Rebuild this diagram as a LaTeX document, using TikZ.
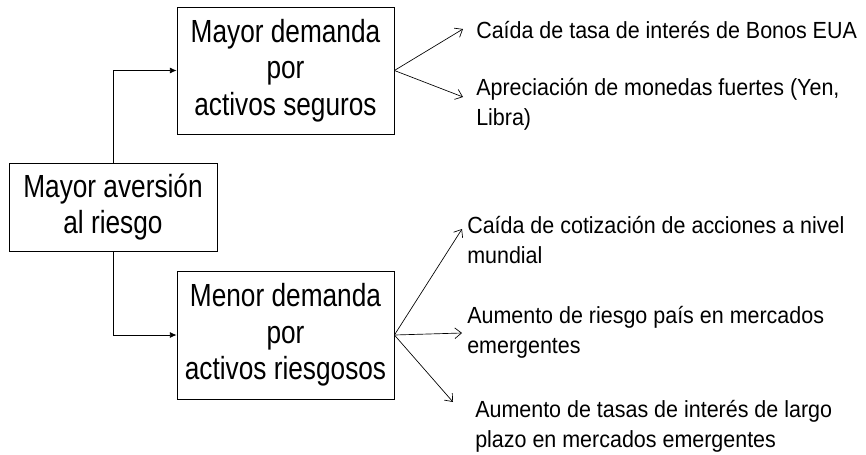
\documentclass[tikz,border=0pt]{standalone}
\usepackage{fontspec}
\setmainfont[FakeStretch=0.92]{Liberation Sans}
\newfontfamily\boxfont[FakeStretch=0.82]{Liberation Sans}
\usetikzlibrary{arrows.meta}

\tikzset{
    caja/.style={draw, line width=0.6pt, align=center, inner sep=0pt,
        font=\boxfont\fontsize{24}{27.5}\selectfont},
    efecto/.style={anchor=base west, align=left, inner sep=0pt,
        font=\fontsize{17.5}{22.5}\selectfont},
    flecha/.style={line width=0.5pt, -{Straight Barb[length=5pt,width=8pt]}},
    enlace/.style={line width=0.6pt, -{Latex[length=5pt,width=4.5pt]}}
}

\begin{document}
\begin{tikzpicture}[x=0.75pt, y=-0.75pt]
    \useasboundingbox (0,0) rectangle (866,454);

    % Boxes
    \node[caja, minimum width=217*0.75pt, minimum height=127*0.75pt] (seguros) at (285.5,70.5) {Mayor demanda\\por\\activos seguros};
    \node[caja, minimum width=208*0.75pt, minimum height=88*0.75pt] (aversion) at (113,207) {Mayor aversión\\al riesgo};
    \node[caja, minimum width=217*0.75pt, minimum height=128*0.75pt] (riesgosos) at (285.5,335) {Menor demanda\\por\\activos riesgosos};

    % Links from the left box
    \draw[enlace] (aversion.north) |- (seguros.west);
    \draw[enlace] (aversion.south) |- (riesgosos.west);

    % Effects (anchored on the baseline of the last line)
    \node[efecto] (bonos) at (476,38) {Caída de tasa de interés de Bonos EUA};
    \node[efecto] (monedas) at (476,125) {Apreciación de monedas fuertes (Yen,\\Libra)};
    \node[efecto] (acciones) at (467,263) {Caída de cotización de acciones a nivel\\mundial};
    \node[efecto] (pais) at (467,353) {Aumento de riesgo país en mercados\\emergentes};
    \node[efecto] (tasas) at (475,447) {Aumento de tasas de interés de largo\\plazo en mercados emergentes};

    % Arrow tips
    \coordinate (p1) at (463,29);
    \coordinate (p2) at (463,97);
    \coordinate (p3) at (462,229);
    \coordinate (p4) at (462,333);
    \coordinate (p5) at (453,402);

    \draw[flecha] (seguros.east) -- (p1);
    \draw[flecha] (seguros.east) -- (p2);
    \draw[flecha] (riesgosos.east) -- (p3);
    \draw[flecha] (riesgosos.east) -- (p4);
    \draw[flecha] (riesgosos.east) -- (p5);
\end{tikzpicture}
\end{document}
